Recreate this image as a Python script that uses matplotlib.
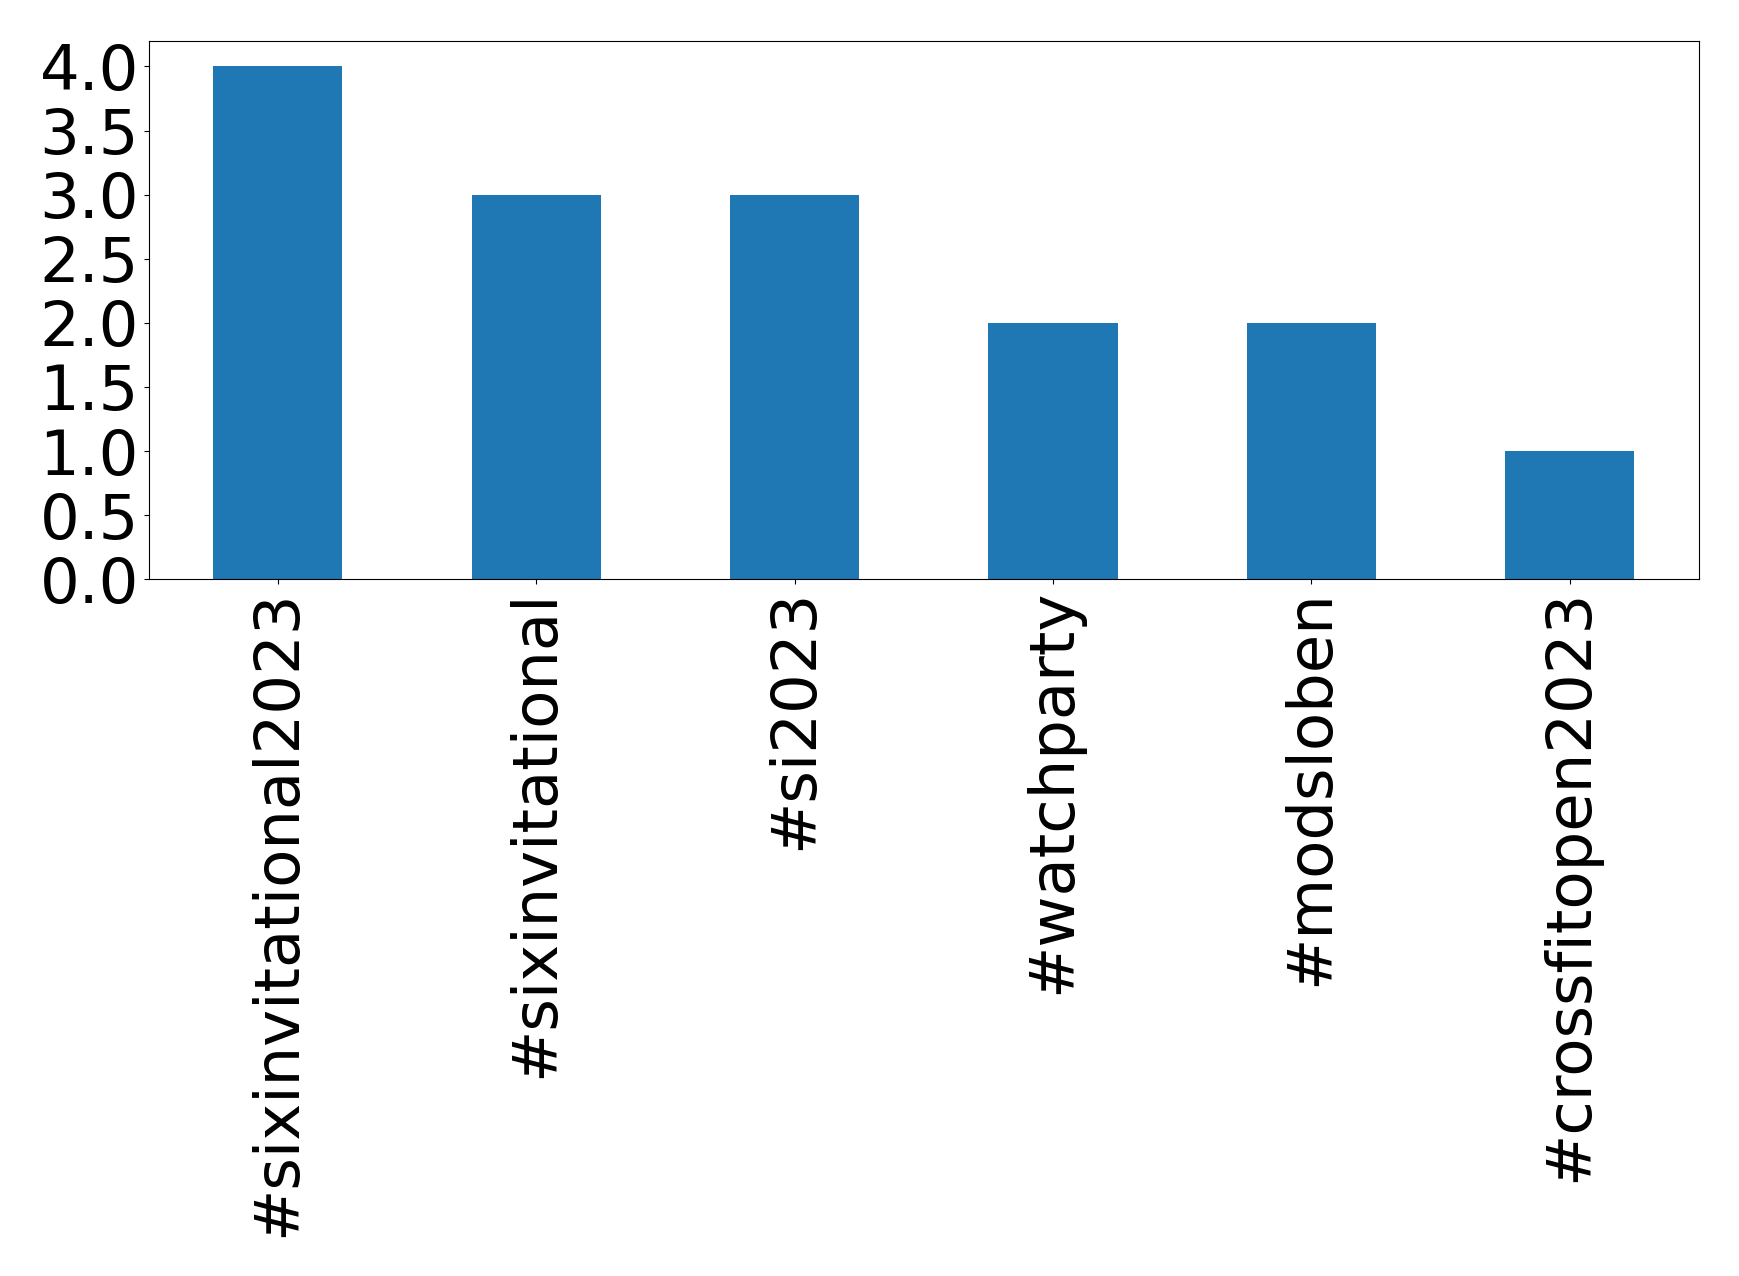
import matplotlib
matplotlib.use("Agg")
import matplotlib.pyplot as plt
from matplotlib.ticker import MultipleLocator, FormatStrFormatter
import pandas as pd

hashtags = ["#sixinvitational2023", "#sixinvitational", "#si2023",
            "#watchparty", "#modsloben", "#crossfitopen2023"]
counts = [4, 3, 3, 2, 2, 1]

s = pd.Series(counts, index=hashtags)

fig = plt.figure(figsize=(17.39, 12.76), dpi=100)
ax = fig.add_axes([0.0855, 0.546, 0.8915, 0.422])
s.plot(kind="bar", ax=ax, color="#1f77b4")
ax.yaxis.set_major_locator(MultipleLocator(0.5))
ax.yaxis.set_major_formatter(FormatStrFormatter("%.1f"))
ax.tick_params(axis="both", labelsize=45)
ax.set_xticklabels(hashtags, rotation=90)

fig.savefig("out.png", dpi=100)
